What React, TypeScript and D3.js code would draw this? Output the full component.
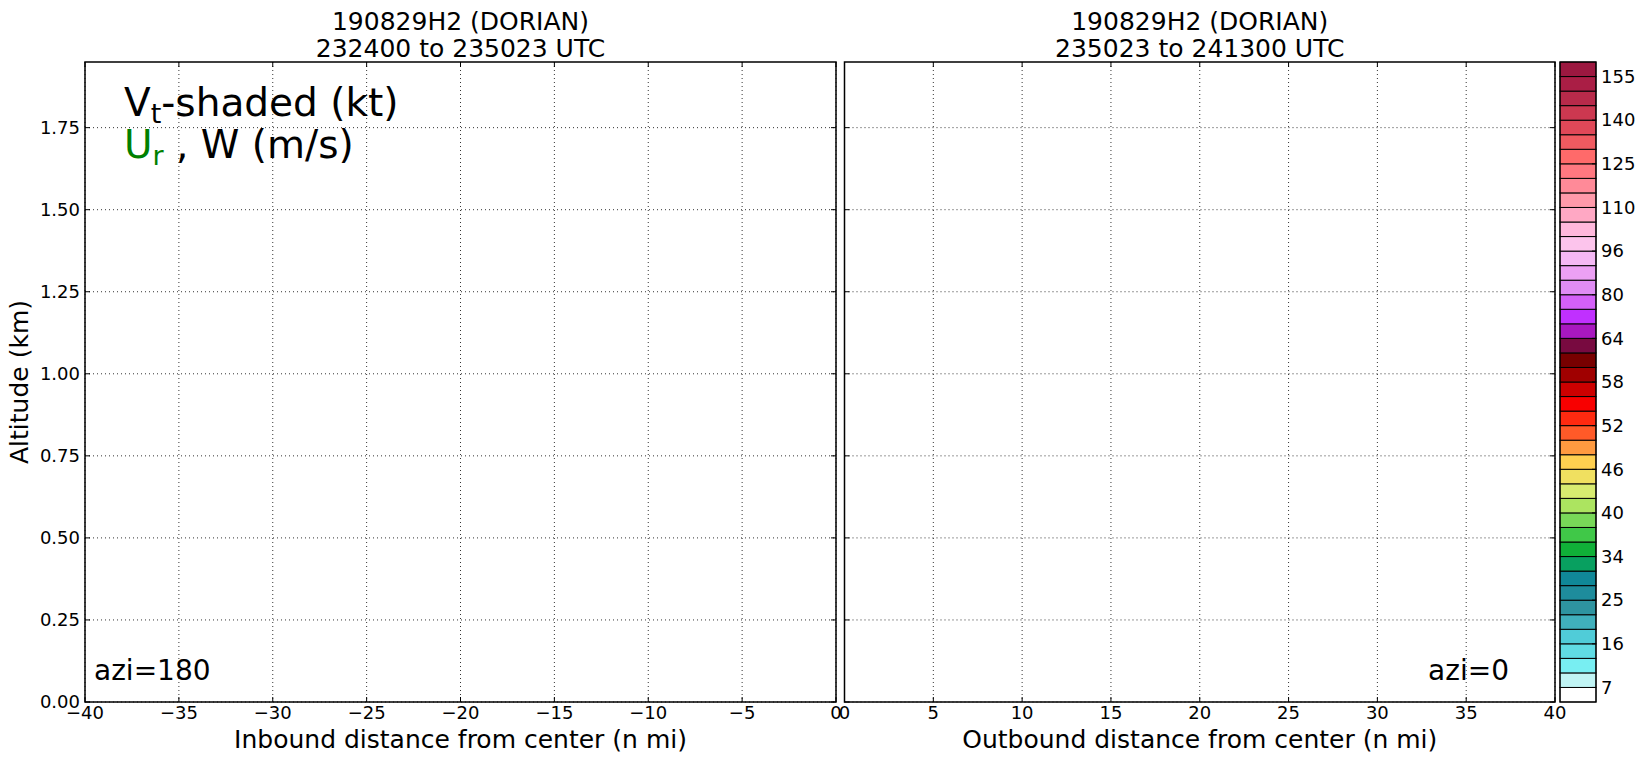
import React from "react";
import * as d3 from "d3";

const W = 1645;
const H = 762;

const titleLeft = ["190829H2 (DORIAN)", "232400 to 235023 UTC"];
const titleRight = ["190829H2 (DORIAN)", "235023 to 241300 UTC"];
const xTicksLeft = [-40, -35, -30, -25, -20, -15, -10, -5, 0];
const xTicksRight = [0, 5, 10, 15, 20, 25, 30, 35, 40];
const yTicks = [0, 0.25, 0.5, 0.75, 1.0, 1.25, 1.5, 1.75];
const cbBounds = [0, 7, 10, 13, 16, 19, 22, 25, 28, 31, 34, 36, 38, 40, 42, 44, 46, 48, 50, 52, 54, 56, 58, 60, 62, 64, 69, 74, 80, 85, 90, 96, 100, 105, 110, 115, 120, 125, 130, 135, 140, 145, 150, 155, 160];
const cbLabels = [7, 16, 25, 34, 40, 46, 52, 58, 64, 80, 96, 110, 125, 140, 155];
const cbColors = [
  "#ffffff", "#c0f4f4", "#78eef2", "#60dce4", "#50ccd8", "#40b0bc", "#2e94a0", "#1e8c9c", "#108898", "#08a060",
  "#10b038", "#40c848", "#78d858", "#ace460", "#d8ec70", "#f0e060", "#ffd050", "#ff9a40", "#ff5a28", "#ff2a10",
  "#f80000", "#cc0000", "#a00000", "#780000", "#780a40", "#a818c0", "#c030ff", "#d460f8", "#e08cf4", "#eca0f4",
  "#f4b8f4", "#fcc4ec", "#ffb8dc", "#ffa8c4", "#ff9aaa", "#ff8a98", "#ff7880", "#ff6a6a", "#f05a60", "#e04858",
  "#cc3850", "#b82a4a", "#aa1e45", "#9c1840",
];

const FONT = "'DejaVu Sans', sans-serif";
const fmtX = (v: number) => (v < 0 ? "\u2212" + Math.abs(v) : String(v));

const top = 62;
const bottom = 702;
const y = d3.scaleLinear().domain([0, 1.95]).range([bottom, top]);
const xL = d3.scaleLinear().domain([-40, 0]).range([85, 836]);
const xR = d3.scaleLinear().domain([0, 40]).range([844.5, 1555]);
const cb = d3.scaleLinear().domain([0, cbColors.length]).range([bottom, top]);
const cbX0 = 1560;
const cbX1 = 1596;

function Panel({ x, ticks, showY, title, xlabel }: any) {
  const [x0, x1] = x.range();
  const tl = 5;
  return (
    <g>
      {ticks.map((t: number) => (
        <line key={"gx" + t} x1={x(t)} x2={x(t)} y1={top} y2={bottom} stroke="#000" strokeWidth={0.8} strokeDasharray="1,3" />
      ))}
      {yTicks.map((t) => (
        <line key={"gy" + t} x1={x0} x2={x1} y1={y(t)} y2={y(t)} stroke="#000" strokeWidth={0.8} strokeDasharray="1,3" />
      ))}
      {ticks.map((t: number) => (
        <g key={"tx" + t}>
          <line x1={x(t)} x2={x(t)} y1={bottom} y2={bottom - tl} stroke="#000" strokeWidth={1} />
          <line x1={x(t)} x2={x(t)} y1={top} y2={top + tl} stroke="#000" strokeWidth={1} />
          <text x={x(t)} y={719} textAnchor="middle" fontSize={18} fontFamily={FONT}>{fmtX(t)}</text>
        </g>
      ))}
      {yTicks.map((t) => (
        <g key={"ty" + t}>
          <line x1={x0} x2={x0 + tl} y1={y(t)} y2={y(t)} stroke="#000" strokeWidth={1} />
          <line x1={x1} x2={x1 - tl} y1={y(t)} y2={y(t)} stroke="#000" strokeWidth={1} />
          {showY && (
            <text x={x0 - 5} y={y(t)} dy="0.35em" textAnchor="end" fontSize={18} fontFamily={FONT}>{t.toFixed(2)}</text>
          )}
        </g>
      ))}
      <rect x={x0} y={top} width={x1 - x0} height={bottom - top} fill="none" stroke="#000" strokeWidth={1.5} />
      <text x={(x0 + x1) / 2} y={30} textAnchor="middle" fontSize={25} fontFamily={FONT}>{title[0]}</text>
      <text x={(x0 + x1) / 2} y={56.5} textAnchor="middle" fontSize={25} fontFamily={FONT}>{title[1]}</text>
      <text x={(x0 + x1) / 2} y={748} textAnchor="middle" fontSize={25} fontFamily={FONT}>{xlabel}</text>
    </g>
  );
}

export default function App() {
  return (
    <svg width={W} height={H} style={{ position: "absolute", left: 0, top: 0, background: "#fff" }}>
      <rect x={0} y={0} width={W} height={H} fill="#fff" />
      <Panel x={xL} ticks={xTicksLeft} showY={true} title={titleLeft} xlabel="Inbound distance from center (n mi)" />
      <Panel x={xR} ticks={xTicksRight} showY={false} title={titleRight} xlabel="Outbound distance from center (n mi)" />
      <text transform={`translate(28,${(top + bottom) / 2}) rotate(-90)`} textAnchor="middle" fontSize={25} fontFamily={FONT}>Altitude (km)</text>

      <text x={124} y={116} fontSize={39} fontFamily={FONT}>
        V<tspan fontSize={27} dy={7}>t</tspan><tspan dy={-7}>-shaded (kt)</tspan>
      </text>
      <text x={124} y={158} fontSize={39} fontFamily={FONT}>
        <tspan fill="#008000">U</tspan><tspan fill="#008000" fontSize={27} dy={7}>r</tspan><tspan dy={-7}>{"\u00a0, W (m/s)"}</tspan>
      </text>
      <text x={94} y={680} fontSize={28} fontFamily={FONT}>azi=180</text>
      <text x={1509} y={680} textAnchor="end" fontSize={28} fontFamily={FONT}>azi=0</text>

      {cbColors.map((c, i) => (
        <rect key={"cb" + i} x={cbX0} y={cb(i + 1)} width={cbX1 - cbX0} height={cb(i) - cb(i + 1)} fill={c} stroke="#000" strokeWidth={1} />
      ))}
      <rect x={cbX0} y={top} width={cbX1 - cbX0} height={bottom - top} fill="none" stroke="#000" strokeWidth={1.2} />
      {cbLabels.map((v) => {
        const yy = cb(cbBounds.indexOf(v));
        return (
          <g key={"cl" + v}>
            <line x1={cbX1} x2={cbX1 - 4} y1={yy} y2={yy} stroke="#000" strokeWidth={1} />
            <text x={cbX1 + 5} y={yy} dy="0.35em" fontSize={18} fontFamily={FONT}>{v}</text>
          </g>
        );
      })}
    </svg>
  );
}
